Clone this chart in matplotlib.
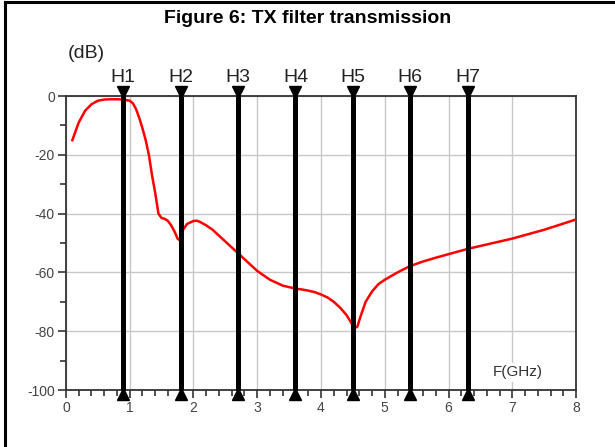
import matplotlib
matplotlib.use("Agg")
import matplotlib.pyplot as plt
from matplotlib.ticker import MultipleLocator
from matplotlib.lines import Line2D

plt.rcParams["font.family"] = ["Liberation Sans", "DejaVu Sans"]
plt.rcParams["axes.unicode_minus"] = False

# ── Data ──────────────────────────────────────────────────────────────────────
freq = [0.1, 0.2, 0.3, 0.4, 0.5, 0.6, 0.7, 0.8, 0.9, 1.0, 1.05, 1.1, 1.15,
        1.2, 1.25, 1.3, 1.35, 1.4, 1.45, 1.5, 1.55, 1.6, 1.65, 1.7, 1.75,
        1.78, 1.82, 1.9, 2.0, 2.05, 2.1, 2.2, 2.3, 2.4, 2.5, 2.6, 2.7, 2.8,
        2.9, 3.0, 3.1, 3.2, 3.3, 3.4, 3.5, 3.6, 3.7, 3.8, 3.9, 4.0, 4.1, 4.2,
        4.3, 4.4, 4.47, 4.52, 4.57, 4.62, 4.7, 4.8, 4.9, 5.0, 5.2, 5.4, 5.6,
        5.8, 6.0, 6.3, 6.6, 7.0, 7.5, 8.0]
gain = [-15, -9, -5, -2.8, -1.6, -1.2, -1.1, -1.1, -1.2, -1.6, -2.5, -4.5,
        -7.5, -11, -15, -20, -27, -33, -40, -41.5, -41.8, -42.5, -44, -46,
        -48.5, -49, -46, -43.5, -42.5, -42.4, -42.8, -44, -45.5, -47.5, -49.5,
        -51.5, -53.5, -55.5, -57.5, -59.5, -61, -62.5, -63.5, -64.5, -65,
        -65.5, -65.8, -66.2, -66.7, -67.5, -68.5, -70, -72, -74.5, -77, -79,
        -78.5, -75, -70, -66.5, -64, -62.5, -60, -57.8, -56.3, -55, -53.8,
        -52, -50.5, -48.5, -45.5, -42]

harmonics = [0.9, 1.8, 2.7, 3.6, 4.5, 5.4, 6.3]
harm_labels = ["H1", "H2", "H3", "H4", "H5", "H6", "H7"]

# ── Figure ────────────────────────────────────────────────────────────────────
fig = plt.figure(figsize=(6.15, 4.47), dpi=100)
ax = fig.add_axes([0.1073, 0.1275, 0.8293, 0.6577])

# page frame (top + left edge only)
fig.add_artist(Line2D([0.008, 0.008], [0, 0.995], transform=fig.transFigure,
                      color="black", lw=2.2))
fig.add_artist(Line2D([0.008, 1.0], [0.995, 0.995], transform=fig.transFigure,
                      color="black", lw=2.2))

fig.text(0.5, 0.958, "Figure 6: TX filter transmission", ha="center",
         va="center", fontsize=14, fontweight="bold")

ax.plot(freq, gain, color="#ff0000", lw=1.8, zorder=3)

# harmonic markers
for h, lab in zip(harmonics, harm_labels):
    ax.plot([h, h], [-100, 0], color="black", lw=3.6, zorder=4,
            solid_capstyle="butt", clip_on=False)
    ax.plot(h, 1.2, marker="v", color="black", ms=9, clip_on=False, zorder=5)
    ax.plot(h, -101.2, marker="^", color="black", ms=9, clip_on=False, zorder=5)
    ax.text(h, 3.5, lab, ha="center", va="bottom", fontsize=14, color="#222222")

ax.text(0.03, 11.5, "(dB)", ha="left", va="bottom", fontsize=14, color="#222222")
ax.text(7.09, -94, "F(GHz)", ha="center", va="center", fontsize=11,
        color="#333333", bbox=dict(fc="white", ec="none", pad=1.5), zorder=2)

# ── Cosmetics ─────────────────────────────────────────────────────────────────
ax.set_xlim(0, 8)
ax.set_ylim(-100, 0)
ax.xaxis.set_major_locator(MultipleLocator(1))
ax.xaxis.set_minor_locator(MultipleLocator(0.2))
ax.yaxis.set_major_locator(MultipleLocator(20))
ax.yaxis.set_minor_locator(MultipleLocator(10))
ax.grid(True, which="major", color="#c8c8c8", lw=1.0, zorder=0)
ax.set_axisbelow(True)
for s in ax.spines.values():
    s.set_color("#333333")
    s.set_linewidth(1.3)
ax.tick_params(which="major", direction="out", length=6, width=1.2,
               color="#333333", labelsize=10, labelcolor="#444444", pad=2)
ax.tick_params(which="minor", direction="out", length=4, width=1.2,
               color="#333333")

fig.savefig("out.png", dpi=100)
